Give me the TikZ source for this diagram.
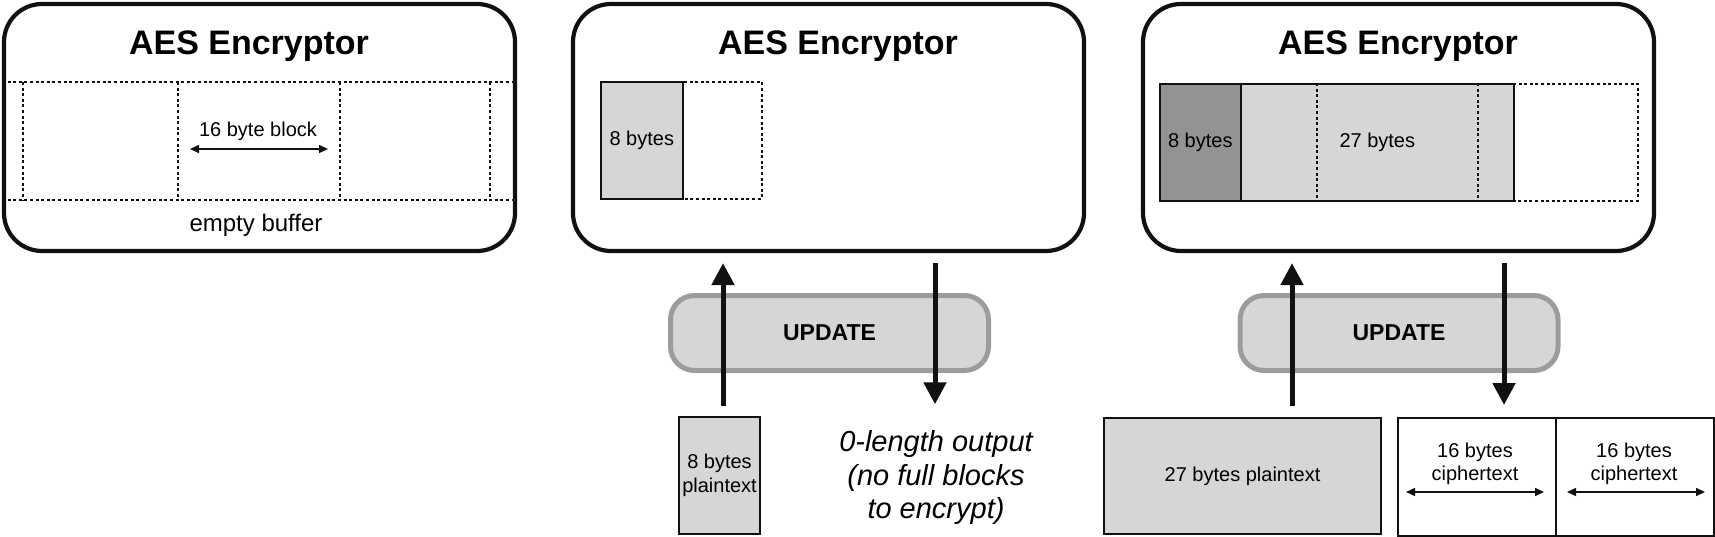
\documentclass[tikz,border=0pt]{standalone}
\usepackage{fontspec}
\setmainfont{Liberation Sans}
\usetikzlibrary{arrows.meta}
\definecolor{lightfill}{HTML}{D6D6D6}
\definecolor{darkfill}{HTML}{939393}
\definecolor{pillborder}{HTML}{9C9C9C}
\definecolor{ink}{HTML}{111111}
\begin{document}
\begin{tikzpicture}[x=1pt,y=-1pt,
  encbox/.style={draw=ink, line width=4.2pt, rounded corners=38pt, minimum width=511pt, minimum height=247pt, inner sep=0pt, fill=white},
  titletext/.style={font=\fontsize{34}{38}\selectfont\bfseries, inner sep=0pt, anchor=base},
  smalltext/.style={font=\fontsize{20}{23}\selectfont, inner sep=0pt, align=center},
  dotline/.style={draw=ink, line width=1.7pt, dash pattern=on 3pt off 2.6pt},
  cellbox/.style={inner sep=0pt, anchor=north west, font=\fontsize{20}{24}\selectfont, align=center},
  pill/.style={draw=pillborder, fill=lightfill, line width=5pt, rounded corners=24pt, minimum width=318pt, minimum height=75pt, inner sep=0pt, font=\fontsize{23}{26}\selectfont\bfseries},
  bigarrow/.style={draw=ink, line width=5pt, -{Triangle[width=22pt,length=22pt]}},
  dimarrow/.style={draw=ink, line width=1.5pt, {Triangle[width=8pt,length=9pt]}-{Triangle[width=8pt,length=9pt]}},
  databox/.style={draw=ink, line width=2pt, fill=lightfill, inner sep=0pt, anchor=north west, font=\fontsize{20}{24}\selectfont, align=center},
]
\useasboundingbox (0,0) rectangle (1715,537);

% ---------- Encryptor 1 ----------
\node[encbox] (enc1) at (259.5,127.5) {};
\node[titletext] (title1) at (249,55) {AES Encryptor};
\draw[dotline] (2,82) -- (514,82);
\draw[dotline] (2,200) -- (514,200);
\foreach \x in {23,178,340,490} \draw[dotline] (\x,82) -- (\x,200);
\node[smalltext, anchor=base] (lbl16) at (258,137) {16 byte block};
\coordinate (dimL) at (190,149);
\coordinate (dimR) at (328,149);
\draw[dimarrow] (dimL) -- (dimR);
\node[font=\fontsize{24}{28}\selectfont, inner sep=0pt, anchor=base] (empty) at (256,232) {empty buffer};

% ---------- Encryptor 2 ----------
\node[encbox] (enc2) at (828.5,127.5) {};
\node[titletext] (title2) at (838,55) {AES Encryptor};
\node[cellbox, draw=ink, line width=1.6pt, fill=lightfill, minimum width=82pt, minimum height=117pt] (buf2a) at (600,81) {8 bytes};
\node[cellbox, dotline, minimum width=161pt, minimum height=117pt] (buf2) at (600,81) {};

% ---------- Encryptor 3 ----------
\node[encbox] (enc3) at (1398.5,127.5) {};
\node[titletext] (title3) at (1398,55) {AES Encryptor};
\node[cellbox, draw=ink, line width=1.6pt, fill=darkfill, minimum width=81pt, minimum height=117pt] (buf3a) at (1159,83) {8 bytes};
\node[cellbox, draw=ink, line width=1.6pt, fill=lightfill, minimum width=273pt, minimum height=117pt] (buf3b) at (1240,83) {27 bytes};
\draw[dotline] (1317,83) -- (1317,200);
\draw[dotline] (1478,83) -- (1478,200);
\node[cellbox, dotline, minimum width=478pt, minimum height=117pt] (buf3) at (1159,83) {};

% ---------- Update pills ----------
\node[pill] (upd2) at (829.5,333) {UPDATE};
\node[pill] (upd3) at (1399,333) {UPDATE};

% ---------- Inputs / outputs ----------
\node[databox, minimum width=81pt, minimum height=117pt] (pt2) at (678,416) {8 bytes\\plaintext};
\node[font=\fontsize{29}{33.5}\selectfont\itshape, align=center, inner sep=0pt] (out2) at (936,477.5) {0-length output\\(no full blocks\\to encrypt)};

\node[databox, minimum width=277pt, minimum height=116pt] (pt3) at (1103,417) {27 bytes plaintext};
\node[databox, fill=white, minimum width=158pt, minimum height=118pt] (ct1) at (1397,417) {};
\node[databox, fill=white, minimum width=158pt, minimum height=118pt] (ct2) at (1555,417) {};
\node[smalltext] (ct1l) at (1475,464) {16 bytes\\ciphertext};
\node[smalltext] (ct2l) at (1634,464) {16 bytes\\ciphertext};
\coordinate (c1a) at (1406,492);
\coordinate (c1b) at (1544,492);
\coordinate (c2a) at (1567,492);
\coordinate (c2b) at (1705,492);
\draw[dimarrow] (c1a) -- (c1b);
\draw[dimarrow] (c2a) -- (c2b);

% ---------- Arrows ----------
\coordinate (x2u) at (723,0);
\coordinate (x2d) at (935,0);
\coordinate (x3u) at (1292,0);
\coordinate (x3d) at (1504,0);
\draw[bigarrow, shorten <=10pt, shorten >=10pt] (pt2.north -| x2u) -- (enc2.south -| x2u);
\draw[bigarrow, shorten <=10pt, shorten >=26pt] (enc2.south -| x2d) -- (out2.north -| x2d);
\draw[bigarrow, shorten <=11pt, shorten >=10pt] (pt3.north -| x3u) -- (enc3.south -| x3u);
\draw[bigarrow, shorten <=10pt, shorten >=12pt] (enc3.south -| x3d) -- (ct1.north -| x3d);
\end{tikzpicture}
\end{document}
